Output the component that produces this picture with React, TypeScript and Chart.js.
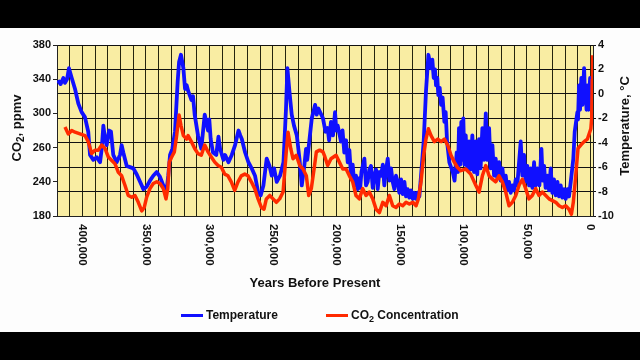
import React, { useEffect, useRef } from "react";
import { Chart, registerables } from "chart.js";

Chart.register(...registerables);

// Temperature (°C) vs years before present
const tempYears = [
  419400, 417200, 415000, 413700, 412100, 410600, 408400, 405800, 403200, 400600,
  398000, 395400, 394000, 391400, 388700, 386100, 384800, 383500, 382200, 380900,
  379000, 377500, 375700, 373000, 370400, 369100, 367800, 365100, 362500, 359900,
  357200, 354600, 352000, 349400, 346800, 344200, 341500, 338900, 336300, 333600,
  332400, 331000, 329200, 327100, 325000, 323900, 322400, 320500, 319200, 317900,
  316600, 314200, 312900, 311600, 309000, 306400, 303700, 302400, 301100, 300100,
  299000, 297200, 294600, 292900, 291600, 289000, 287700, 285000, 282400, 279800,
  277100, 275700, 274500, 271900, 269300, 266700, 264100, 261400, 259600, 257500,
  254900, 252700, 250900, 249100, 247000, 244400, 241700, 239700, 238600, 237000,
  235200, 233400, 231200, 229100, 227300, 225500, 223900, 223000, 222000, 219400,
  216800, 215500, 214200, 210600, 208600, 206900, 205800, 204300, 202700, 201100,
  200100, 199000, 196400, 195200, 193800, 192400, 191100, 189800, 188500, 187200,
  185900, 184600, 183200, 182000, 181300, 180300, 178000, 176700, 175400, 174100,
  172800, 171400, 170200, 168800, 167500, 166200, 164900, 163500, 162300, 160900,
  159600, 158300, 157000, 155700, 154400, 153100, 151700, 150500, 149100, 147800,
  146500, 145200, 143900, 142600, 141300, 139900, 138700, 137300, 136000, 134700,
  133400, 131300, 129500, 127600, 125500, 124500, 123400, 122400, 121600, 120600,
  119800, 118700, 117600, 116400, 115000, 114000, 112900, 111100, 108400, 107000,
  105300, 104300, 103500, 102500, 101700, 100900, 100100, 99200, 98200, 97000,
  95600, 94400, 93000, 91700, 90300, 89100, 87700, 86500, 85100, 83800,
  82400, 81200, 79800, 78600, 77200, 75900, 74600, 73300, 71900, 70700,
  69300, 68000, 66700, 65400, 64100, 62800, 61500, 60200, 58800, 57600,
  56200, 54900, 53600, 52300, 51000, 49700, 48300, 47000, 45700, 44400,
  43200, 41800, 40200, 38600, 37600, 36500, 35300, 33900, 32600, 31300,
  30000, 28700, 27400, 26000, 24700, 23400, 22100, 20800, 19500, 18200,
  16900, 15500, 13500, 12400, 10300, 9800, 9000, 8200, 7200, 6300,
  5000, 4200, 3700, 3100, 2400, 1500, 300, -700, -1200,
];
const tempValues = [
  1.1, 0.8, 1.3, 0.9, 1.2, 2.1, 1.3, 0.4, -0.8, -1.5,
  -1.9, -3.1, -5.0, -5.4, -5.2, -5.6, -4.5, -2.6, -3.7, -4.2,
  -3.0, -3.1, -5.0, -5.6, -5.0, -4.2, -4.8, -5.9, -6.0, -6.1,
  -6.6, -7.2, -7.8, -7.6, -7.1, -6.7, -6.4, -6.8, -7.5, -7.8,
  -6.7, -5.0, -4.5, -3.1, 1.0, 2.6, 3.2, 2.1, 0.4, 0.7,
  0.2, -0.5, -0.2, -1.7, -3.4, -4.5, -1.7, -2.3, -3.0, -2.1,
  -3.7, -4.8, -5.0, -3.5, -4.5, -5.4, -5.0, -5.6, -5.0, -4.2,
  -3.0, -3.4, -3.7, -4.8, -5.6, -6.1, -6.7, -8.2, -8.3, -7.5,
  -5.3, -5.9, -6.7, -6.1, -7.2, -6.7, -5.6, -1.2, 2.1, 0.2,
  -1.7, -2.6, -3.4, -5.3, -7.5, -6.1, -4.5, -5.4, -4.5, -2.0,
  -0.9, -1.7, -1.2, -2.0, -3.1, -2.8, -3.8, -2.3, -3.4, -1.5,
  -3.0, -2.6, -3.9, -3.0, -4.8, -3.8, -5.6, -4.6, -6.7, -5.8,
  -7.5, -6.7, -7.8, -6.9, -7.7, -6.4, -5.3, -7.5, -7.2, -6.2,
  -5.9, -7.7, -6.7, -6.2, -7.8, -6.4, -6.7, -5.8, -7.5, -6.2,
  -5.3, -7.1, -6.1, -7.2, -7.8, -6.7, -7.2, -8.1, -7.0, -8.2,
  -7.2, -8.4, -7.8, -8.5, -7.9, -8.6, -8.1, -8.6, -8.1, -8.4,
  -6.7, -3.9, 0.2, 3.2, 2.1, 2.8, 1.3, 2.0, 0.7, 1.3,
  -0.1, 0.5, -0.9, -0.3, -2.3, -1.5, -3.9, -5.6, -6.4, -7.1,
  -4.8, -6.4, -2.8, -5.8, -2.3, -5.4, -2.0, -5.8, -3.4, -6.2,
  -3.9, -6.2, -3.4, -6.4, -3.9, -6.6, -3.7, -6.1, -2.8, -5.4,
  -1.6, -5.4, -2.8, -6.1, -4.2, -6.7, -5.3, -6.9, -5.6, -7.1,
  -6.1, -7.5, -6.7, -7.9, -7.2, -8.1, -7.5, -7.9, -7.0, -7.5,
  -5.6, -3.9, -6.7, -5.0, -7.2, -5.9, -7.5, -6.1, -7.7, -5.6,
  -7.5, -6.1, -7.5, -4.5, -7.1, -5.9, -7.7, -6.7, -7.9, -6.1,
  -8.1, -7.0, -8.3, -7.2, -8.4, -7.5, -8.5, -7.8, -8.6, -7.8,
  -8.4, -7.2, -5.3, -3.1, -1.5, -2.1, 0.7, -1.3, 1.3, -0.9,
  2.1, -0.5, 0.4, -1.3, 0.7, -1.3, 1.3, -1.2, 0.3,
];

// CO2 concentration (ppmv) vs years before present
const co2Years = [
  413700, 411100, 408400, 405800, 401900, 398000, 395400, 392700, 390100, 387500,
  384800, 382200, 379600, 376900, 374300, 371700, 369100, 366500, 363900, 361200,
  358600, 356000, 353300, 351300, 349400, 346800, 344200, 341500, 338900, 336300,
  334200, 332800, 331600, 329700, 327600, 325800, 323900, 322400, 320500, 317900,
  316800, 314200, 311600, 309000, 306400, 303700, 301100, 298500, 295800, 293200,
  290600, 288000, 285400, 282800, 280100, 277500, 274900, 272200, 269600, 267000,
  264300, 261700, 259100, 257000, 255200, 252500, 249900, 247300, 244700, 242000,
  239500, 238100, 236000, 234200, 231600, 228900, 226300, 223700, 221800, 219800,
  217600, 215800, 213200, 210600, 209500, 206900, 204300, 200300, 197700, 195000,
  192400, 189800, 187200, 184600, 182000, 179300, 176700, 174100, 171400, 168800,
  166200, 163500, 160900, 158300, 155700, 153100, 150500, 147800, 145200, 142600,
  139900, 137300, 135500, 133400, 131300, 129500, 127600, 125500, 122900, 120200,
  117600, 115000, 112400, 109800, 107200, 104800, 102100, 98200, 94300, 90300,
  87700, 85100, 82400, 79800, 77200, 74600, 72000, 69400, 66700, 64100,
  61500, 58800, 56200, 53600, 51000, 48400, 45800, 43100, 40500, 37900,
  35200, 32600, 30000, 27300, 24700, 22100, 19500, 16900, 15000, 13500,
  11600, 9800, 7600, 5000, 2400, -300, -1000, -1400, -1700,
];
const co2Values = [
  284, 276, 280, 278, 276, 274, 267, 253, 257, 257,
  263, 259, 249, 245, 241, 231, 227, 216, 204, 202,
  204, 196, 186, 190, 202, 212, 218, 220, 218, 212,
  200, 212, 243, 249, 255, 274, 298, 286, 274, 270,
  274, 267, 259, 253, 251, 263, 255, 249, 243, 239,
  237, 229, 227, 220, 210, 220, 227, 229, 227, 220,
  212, 200, 190, 188, 200, 204, 200, 196, 200, 208,
  255, 278, 259, 247, 251, 239, 235, 227, 204, 212,
  235, 255, 257, 255, 251, 239, 247, 251, 243, 235,
  235, 227, 220, 204, 200, 212, 204, 208, 200, 188,
  184, 196, 192, 204, 192, 190, 194, 192, 196, 194,
  196, 192, 200, 220, 251, 270, 282, 274, 267, 270,
  267, 270, 263, 251, 243, 237, 233, 235, 229, 216,
  208, 227, 239, 227, 223, 220, 227, 220, 208, 192,
  196, 204, 216, 223, 212, 200, 204, 212, 204, 208,
  204, 200, 198, 196, 192, 190, 192, 188, 182, 196,
  227, 259, 263, 267, 270, 282, 295, 340, 368,
];

const co2TickValues = [180, 220, 260, 300, 340, 380];
const co2TickLabels = ["180", "240", "260", "300", "340", "380"];
const yearLabelValues = [400000, 350000, 300000, 250000, 200000, 150000, 100000, 50000, 0];
const yearLabelTexts = ["400,000", "350,000", "300,000", "250,000", "200,000", "150,000", "100,000", "50,000", "0"];

const FONT = "Arial, 'Liberation Sans', sans-serif";
const INK = "#111111";

type Part = { text: string; sub?: boolean };

function drawParts(ctx: CanvasRenderingContext2D, parts: Part[], size: number, x: number, y: number, rot: number, align: "center" | "left") {
  ctx.save();
  ctx.translate(x, y);
  ctx.rotate(rot);
  ctx.textAlign = "left";
  ctx.textBaseline = "middle";
  ctx.fillStyle = INK;
  const fontFor = (p: Part) => `bold ${p.sub ? Math.round(size * 0.75) : size}px ${FONT}`;
  const widths = parts.map((p) => {
    ctx.font = fontFor(p);
    return ctx.measureText(p.text).width;
  });
  const total = widths.reduce((a, b) => a + b, 0);
  let cx = align === "center" ? -total / 2 : 0;
  parts.forEach((p, i) => {
    ctx.font = fontFor(p);
    ctx.fillText(p.text, cx, p.sub ? size * 0.3 : 0);
    cx += widths[i];
  });
  ctx.restore();
}

export default function App() {
  const ref = useRef<HTMLCanvasElement>(null);

  useEffect(() => {
    const canvas = ref.current;
    if (!canvas) return;

    const gridYears: number[] = [];
    for (let v = 0; v <= 420000; v += 10000) gridYears.push(v);

    const deco = {
      id: "deco",
      beforeDraw(chart: any) {
        const { ctx, chartArea: a } = chart;
        ctx.save();
        ctx.fillStyle = "#000000";
        ctx.fillRect(0, 0, 640, 360);
        ctx.fillStyle = "#fdfdfd";
        ctx.fillRect(0, 28, 640, 304);
        ctx.fillStyle = "#f9eda3";
        ctx.fillRect(a.left, a.top, a.right - a.left, a.bottom - a.top);
        ctx.restore();
      },
      afterDraw(chart: any) {
        const { ctx } = chart;
        const xs = chart.scales.x;
        ctx.save();
        ctx.fillStyle = INK;
        ctx.font = `bold 11.5px ${FONT}`;
        ctx.textAlign = "left";
        ctx.textBaseline = "middle";
        yearLabelValues.forEach((v, i) => {
          const px = xs.getPixelForValue(v);
          ctx.save();
          ctx.translate(px, 224);
          ctx.rotate(Math.PI / 2);
          ctx.fillText(yearLabelTexts[i], 0, 0);
          ctx.restore();
        });
        ctx.restore();

        drawParts(ctx, [{ text: "Years Before Present" }], 13, 315, 283, 0, "center");
        drawParts(ctx, [{ text: "CO" }, { text: "2", sub: true }, { text: ", ppmv" }], 13, 17, 128, -Math.PI / 2, "center");
        drawParts(ctx, [{ text: "Temperature, °C" }], 13, 625, 126, -Math.PI / 2, "center");

        // legend
        ctx.save();
        ctx.lineWidth = 3;
        ctx.strokeStyle = "#1010ff";
        ctx.beginPath();
        ctx.moveTo(181, 315.5);
        ctx.lineTo(203, 315.5);
        ctx.stroke();
        ctx.strokeStyle = "#ff2a00";
        ctx.beginPath();
        ctx.moveTo(326, 315.5);
        ctx.lineTo(348, 315.5);
        ctx.stroke();
        ctx.restore();
        drawParts(ctx, [{ text: "Temperature" }], 12, 206, 316, 0, "left");
        drawParts(ctx, [{ text: "CO" }, { text: "2", sub: true }, { text: " Concentration" }], 12, 351, 316, 0, "left");
      },
    };

    const chart = new Chart(canvas, {
      type: "line",
      data: {
        datasets: [
          {
            label: "CO2 Concentration",
            data: co2Years.map((x, i) => ({ x, y: co2Values[i] })),
            borderColor: "#ff2a00",
            borderWidth: 3.5,
            borderJoinStyle: "round",
            pointRadius: 0,
            tension: 0,
            yAxisID: "yCo2",
            order: 0,
          },
          {
            label: "Temperature",
            data: tempYears.map((x, i) => ({ x, y: tempValues[i] })),
            borderColor: "#1010ff",
            borderWidth: 3.8,
            borderJoinStyle: "round",
            pointRadius: 0,
            tension: 0,
            yAxisID: "yTemp",
            order: 1,
          },
        ],
      },
      options: {
        responsive: false,
        animation: false,
        devicePixelRatio: 1,
        layout: { padding: { top: 45, left: 0, right: 0, bottom: 0 } },
        plugins: {
          legend: { display: false },
          tooltip: { enabled: false },
          title: { display: false },
        },
        scales: {
          x: {
            type: "linear",
            reverse: true,
            min: -2000,
            max: 420000,
            afterBuildTicks: (s: any) => {
              s.ticks = gridYears.map((v) => ({ value: v }));
            },
            afterFit: (s: any) => {
              s.height = 144;
            },
            ticks: { display: false },
            grid: { color: "#24240e", lineWidth: 1, drawTicks: false, tickLength: 0 },
            border: { display: true, color: "#222222" },
          },
          yCo2: {
            type: "linear",
            position: "left",
            min: 180,
            max: 380,
            afterBuildTicks: (s: any) => {
              s.ticks = co2TickValues.map((v) => ({ value: v }));
            },
            afterFit: (s: any) => {
              s.width = 57;
            },
            ticks: {
              callback: (v: any) => co2TickLabels[co2TickValues.indexOf(Number(v))],
              color: INK,
              font: { family: FONT, size: 11, weight: "bold" },
              padding: 2,
            },
            grid: { drawOnChartArea: false, tickLength: 4, color: "#222222" },
            border: { display: true, color: "#222222" },
          },
          yTemp: {
            type: "linear",
            position: "right",
            min: -10,
            max: 4,
            afterFit: (s: any) => {
              s.width = 47;
            },
            ticks: {
              stepSize: 2,
              color: INK,
              font: { family: FONT, size: 11, weight: "bold" },
              padding: 2,
            },
            grid: { color: "#111111", lineWidth: 1, tickLength: 3 },
            border: { display: true, color: "#222222" },
          },
        },
      } as any,
      plugins: [deco],
    });

    return () => chart.destroy();
  }, []);

  return (
    <div style={{ position: "fixed", left: 0, top: 0, width: 640, height: 360 }}>
      <canvas ref={ref} width={640} height={360} style={{ display: "block", width: 640, height: 360 }} />
    </div>
  );
}
